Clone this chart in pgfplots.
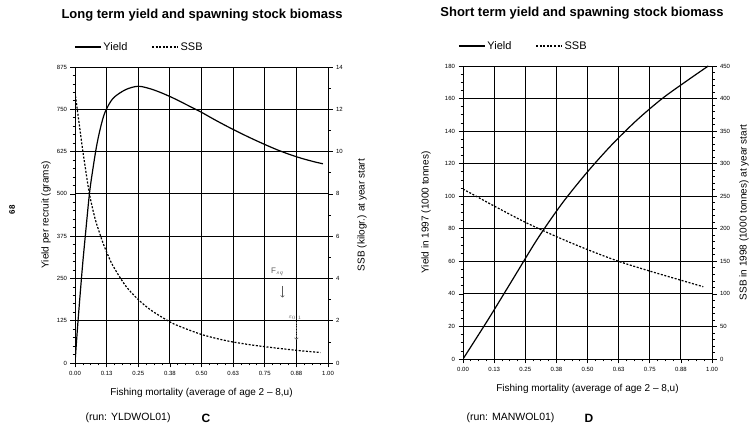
\documentclass[border=0pt]{standalone}
\usepackage{pgfplots}
\pgfplotsset{compat=1.18}
\usepackage{fontspec}
\setmainfont{Liberation Sans}

\pgfplotsset{
  common/.style={
    scale only axis,
    xmin=0, xmax=1,
    xtick={0,0.125,0.25,0.375,0.5,0.625,0.75,0.875,1},
    xticklabels={0.00,0.13,0.25,0.38,0.50,0.63,0.75,0.88,1.00},
    tick label style={font=\fontsize{6}{7}\selectfont},
    /pgf/number format/assume math mode=true,
    tick align=outside,
    major tick length=4.5pt, minor tick length=2.5pt,
    axis line style={line width=0.9pt},
    every tick/.style={black, line width=0.7pt},
    label style={font=\fontsize{11}{13}\selectfont},
  },
  yieldline/.style={black, line width=1.2pt, smooth},
  ssbline/.style={black, line width=1.2pt, dash pattern=on 2pt off 1.6pt, smooth},
}

\begin{document}
\begin{tikzpicture}
\useasboundingbox (0,0) rectangle (752pt,428pt);

% ---------------- Panel C ----------------
\begin{axis}[common,
  at={(75pt,65pt)}, anchor=south west, width=253pt, height=296pt,
  ymin=0, ymax=875, ytick={0,125,250,375,500,625,750,875},
  minor y tick num=4, minor x tick num=3,
  xtick pos=bottom, ytick pos=left,
  grid=major, major grid style={black, line width=0.8pt},
  xlabel={Fishing mortality (average of age 2 -- 8,u)},
  ylabel={Yield per recruit (grams)},
  every axis x label/.style={at={(rel axis cs:0.5,0)}, anchor=center, yshift=-30pt},
  every axis y label/.style={at={(rel axis cs:0,0.5)}, anchor=center, rotate=90, yshift=29pt},
  legend style={at={(rel axis cs:0,1)}, anchor=west, yshift=20pt, xshift=-4pt, draw=none, fill=none,
    legend columns=2, font=\fontsize{11}{13}\selectfont,
    /tikz/every even column/.append style={column sep=22pt}},
  legend image code/.code={\draw[#1] (0pt,0pt) -- (26pt,0pt);},
]
\addplot[yieldline] coordinates {
(0,0) (0.01,105) (0.02,200) (0.03,290) (0.04,370) (0.057,500) (0.07,570)
(0.085,640) (0.1,693) (0.118,740) (0.15,782) (0.2,808) (0.25,818) (0.3,810)
(0.35,796) (0.4,779) (0.45,760) (0.5,741) (0.55,720) (0.6,700) (0.65,681)
(0.7,663) (0.75,646) (0.8,630) (0.85,616) (0.9,604) (0.95,594) (0.98,589)};
\addlegendentry{Yield}
\addlegendimage{ssbline}
\addlegendentry{SSB}
\end{axis}

\begin{axis}[common,
  at={(75pt,65pt)}, anchor=south west, width=253pt, height=296pt,
  axis x line=none, axis y line*=right,
  ymin=0, ymax=14, ytick={0,2,4,6,8,10,12,14}, minor y tick num=1,
  ylabel={SSB (kilogr.) at year start},
  every axis y label/.style={at={(rel axis cs:1,0.5)}, anchor=center, rotate=90, yshift=-34pt},
]
\addplot[ssbline] coordinates {
(0,12.8) (0.01,11.9) (0.02,11.0) (0.03,10.1) (0.04,9.3) (0.057,8.0) (0.08,6.8)
(0.107,5.8) (0.125,5.25) (0.15,4.6) (0.2,3.65) (0.25,3.0) (0.3,2.5) (0.36,2.05)
(0.4,1.8) (0.5,1.35) (0.6,1.05) (0.7,0.85) (0.8,0.7) (0.9,0.57) (0.97,0.5)};
% handwritten annotation
\node[font=\fontsize{8}{9}\selectfont, gray!70!black] at (axis cs:0.80,4.3) {F$_{sq}$};
\draw[->, gray!70!black, line width=0.6pt] (axis cs:0.82,3.65) -- (axis cs:0.82,3.1);
\node[font=\fontsize{6}{7}\selectfont, gray!70!black] at (axis cs:0.87,2.15) {$\varepsilon_{0.1}$};
\draw[->, gray!70!black, line width=0.6pt, densely dotted] (axis cs:0.875,1.95) -- (axis cs:0.875,1.1);
\end{axis}

% ---------------- Panel D ----------------
\begin{axis}[common,
  at={(463pt,69pt)}, anchor=south west, width=249pt, height=293pt,
  ymin=0, ymax=180, ytick={0,20,40,60,80,100,120,140,160,180},
  minor y tick num=3, minor x tick num=3,
  xtick pos=bottom, ytick pos=left,
  grid=major, major grid style={black, line width=0.8pt},
  xlabel={Fishing mortality (average of age 2 -- 8,u)},
  ylabel={Yield in 1997 (1000 tonnes)},
  every axis x label/.style={at={(rel axis cs:0.5,0)}, anchor=center, yshift=-30pt},
  every axis y label/.style={at={(rel axis cs:0,0.5)}, anchor=center, rotate=90, yshift=37pt},
  legend style={at={(rel axis cs:0,1)}, anchor=west, yshift=20pt, xshift=-8pt, draw=none, fill=none,
    legend columns=2, font=\fontsize{11}{13}\selectfont,
    /tikz/every even column/.append style={column sep=22pt}},
  legend image code/.code={\draw[#1] (0pt,0pt) -- (26pt,0pt);},
]
\addplot[yieldline] coordinates {
(0,0) (0.1,24) (0.2,49) (0.3,74) (0.4,96) (0.5,115) (0.6,132) (0.7,147)
(0.8,160) (0.9,171) (0.985,180)};
\addlegendentry{Yield}
\addlegendimage{ssbline}
\addlegendentry{SSB}
\end{axis}

\begin{axis}[common,
  at={(463pt,69pt)}, anchor=south west, width=249pt, height=293pt,
  axis x line=none, axis y line*=right,
  ymin=0, ymax=450, ytick={0,50,100,150,200,250,300,350,400,450}, minor y tick num=4,
  ylabel={SSB in 1998 (1000 tonnes) at year start},
  every axis y label/.style={at={(rel axis cs:1,0.5)}, anchor=center, rotate=90, yshift=-32pt},
]
\addplot[ssbline] coordinates {
(0,261) (0.125,235) (0.25,210) (0.375,188) (0.5,168) (0.625,150) (0.75,135)
(0.875,121) (0.965,111)};
\end{axis}

% ---------------- Texts around ----------------
\node[font=\bfseries\fontsize{13}{15}\selectfont] at (202pt,413pt) {Long term yield and spawning stock biomass};
\node[font=\bfseries\fontsize{13}{15}\selectfont] at (582pt,415pt) {Short term yield and spawning stock biomass};
\node[anchor=west, font=\fontsize{10.5}{12}\selectfont] at (82pt,10pt) {(run: YLDWOL01)};
\node[font=\bfseries\fontsize{12}{14}\selectfont] at (206pt,10pt) {C};
\node[anchor=west, font=\fontsize{10.5}{12}\selectfont] at (463pt,10pt) {(run: MANWOL01)};
\node[font=\bfseries\fontsize{12}{14}\selectfont] at (589pt,10pt) {D};
\node[rotate=90, font=\bfseries\fontsize{8}{9}\selectfont] at (12pt,218pt) {68};
\end{tikzpicture}
\end{document}
